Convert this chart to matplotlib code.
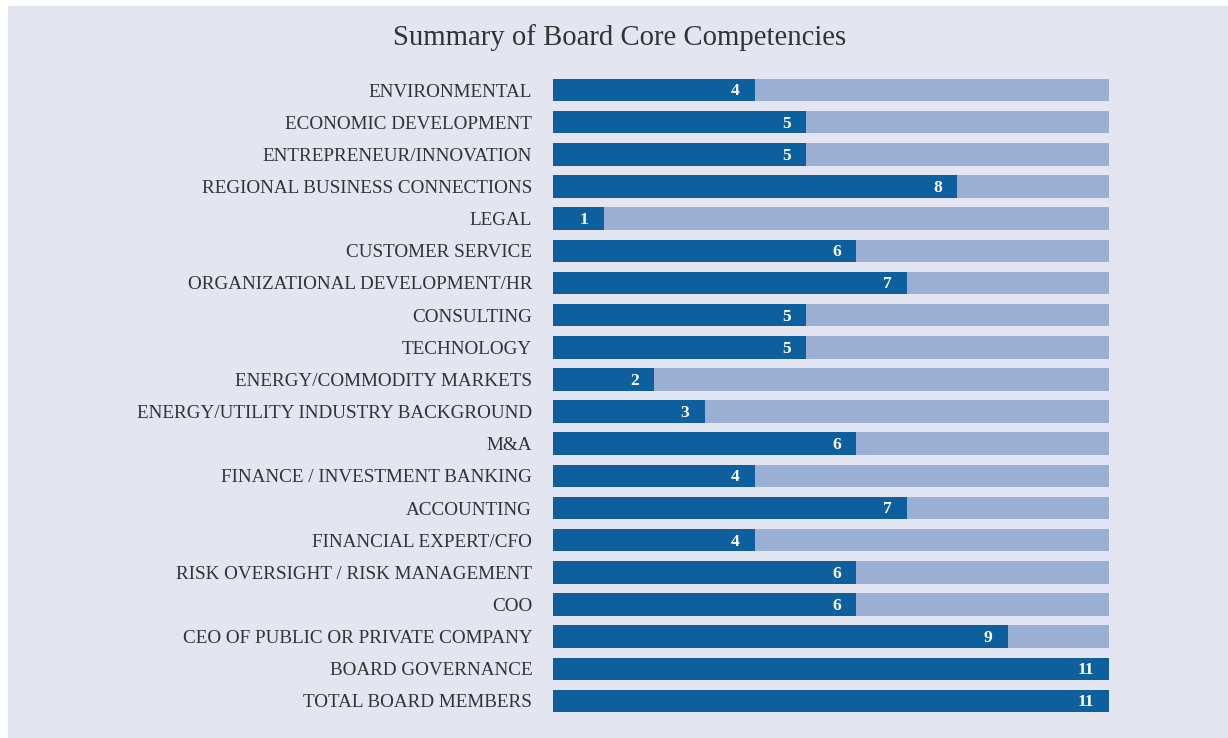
import matplotlib
matplotlib.use("Agg")
import matplotlib.pyplot as plt
from matplotlib.patches import Rectangle

categories = [
    "ENVIRONMENTAL",
    "ECONOMIC DEVELOPMENT",
    "ENTREPRENEUR/INNOVATION",
    "REGIONAL BUSINESS CONNECTIONS",
    "LEGAL",
    "CUSTOMER SERVICE",
    "ORGANIZATIONAL DEVELOPMENT/HR",
    "CONSULTING",
    "TECHNOLOGY",
    "ENERGY/COMMODITY MARKETS",
    "ENERGY/UTILITY INDUSTRY BACKGROUND",
    "M&A",
    "FINANCE / INVESTMENT BANKING",
    "ACCOUNTING",
    "FINANCIAL EXPERT/CFO",
    "RISK OVERSIGHT / RISK MANAGEMENT",
    "COO",
    "CEO OF PUBLIC OR PRIVATE COMPANY",
    "BOARD GOVERNANCE",
    "TOTAL BOARD MEMBERS",
]
values = [4, 5, 5, 8, 1, 6, 7, 5, 5, 2, 3, 6, 4, 7, 4, 6, 6, 9, 11, 11]
total = 11

dark = "#0e5f9d"
light = "#9aafd3"
bg = "#e3e6f1"
txt = "#333333"

plt.rcParams["font.family"] = ["Liberation Serif", "DejaVu Serif"]

W, H = 1228, 738
fig = plt.figure(figsize=(W / 100, H / 100), dpi=100)
fig.patch.set_facecolor("white")
fig.patches.append(Rectangle((8 / W, 0), 1 - 8 / W, 1 - 6 / H,
                             transform=fig.transFigure, facecolor=bg,
                             edgecolor="none", zorder=-10))

ax = fig.add_axes([553 / W, 1 - 717 / H, (1109 - 553) / W, (717 - 74) / H])
ax.set_facecolor("none")
y = list(range(len(categories)))
ax.barh(y, [total] * len(categories), height=0.7, color=light, edgecolor="none")
ax.barh(y, values, height=0.7, color=dark, edgecolor="none")
for yi, v in zip(y, values):
    ax.annotate(str(v), (v, yi), xytext=(-11, -1), textcoords="offset points",
                ha="right", va="center", color="white", fontsize=12.5,
                fontweight="bold")

ax.set_xlim(0, total)
ax.set_ylim(len(categories) - 0.5, -0.5)
ax.set_yticks(y)
ax.set_yticklabels(categories, fontsize=13.8, color=txt)
ax.tick_params(axis="y", length=0, pad=15)
ax.set_xticks([])
for s in ax.spines.values():
    s.set_visible(False)

fig.text(620 / W, 1 - 38 / H, "Summary of Board Core Competencies",
         ha="center", va="center", fontsize=20.7, color=txt)

fig.savefig("out.png", dpi=100)
